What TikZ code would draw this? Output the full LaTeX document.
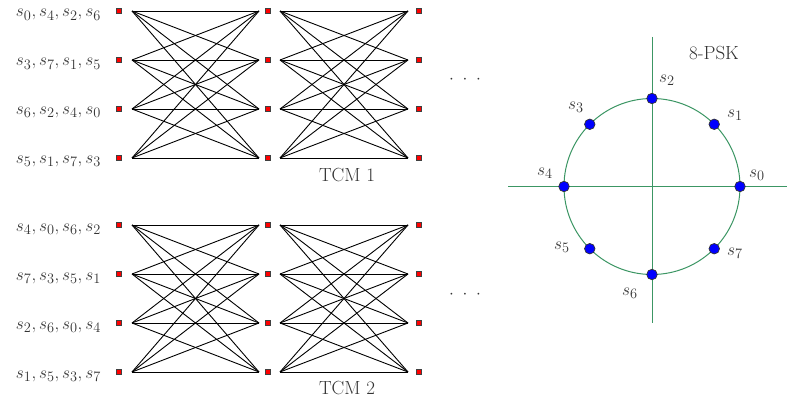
\documentclass[tikz,border=0pt]{standalone}
\usepackage{amsmath}
\usetikzlibrary{calc}
\begin{document}
\begin{tikzpicture}[x=1pt,y=-1pt,
  statebox/.style={draw=black!75,fill=red,line width=0.8pt,minimum width=5.5pt,minimum height=5pt,inner sep=0pt},
  edge/.style={black,line width=0.9pt},
  lbl/.style={font=\fontsize{19}{22}\selectfont,text=black!80,inner sep=0pt},
  pt/.style={circle,draw=black!80,fill=blue,line width=0.7pt,minimum size=10.5pt,inner sep=0pt}]
\useasboundingbox (0,0) rectangle (787,404);
\definecolor{pskgreen}{RGB}{60,150,100}
% trellis 1 and 2
\foreach \t/\y in {T/11,B/225}{
  \foreach \i in {1,2,3,4}{
    \pgfmathsetmacro{\yy}{\y+(\i-1)*49}
    \node[statebox] (\t L\i) at (119,\yy) {};
    \node[statebox] (\t M\i) at (268,\yy) {};
    \node[statebox] (\t R\i) at (419,\yy) {};
    \coordinate (\t a\i) at (132,\yy);
    \coordinate (\t b\i) at (259,\yy);
    \coordinate (\t c\i) at (280,\yy);
    \coordinate (\t d\i) at (408,\yy);
  }
  \foreach \i in {1,2,3,4}{
    \foreach \j in {1,2,3,4}{
      \draw[edge] (\t a\i) -- (\t b\j);
      \draw[edge] (\t c\i) -- (\t d\j);
    }
  }
}
% labels
\node[lbl,anchor=base east] (lt1) at (101,17) {$s_0, s_4, s_2, s_6$};
\node[lbl,anchor=base east] (lt2) at (101,66) {$s_3, s_7, s_1, s_5$};
\node[lbl,anchor=base east] (lt3) at (101,114) {$s_6, s_2, s_4, s_0$};
\node[lbl,anchor=base east] (lt4) at (101,163) {$s_5, s_1, s_7, s_3$};
\node[lbl,anchor=base east] (lb1) at (101,231) {$s_4, s_0, s_6, s_2$};
\node[lbl,anchor=base east] (lb2) at (101,280) {$s_7, s_3, s_5, s_1$};
\node[lbl,anchor=base east] (lb3) at (101,329) {$s_2, s_6, s_0, s_4$};
\node[lbl,anchor=base east] (lb4) at (101,378) {$s_1, s_5, s_3, s_7$};
\node[lbl] (tcm1) at (347,175) {TCM 1};
\node[lbl] (tcm2) at (347,388) {TCM 2};
\node[lbl] (dots1) at (465,80) {$\cdot\;\cdot\;\cdot$};
\node[lbl] (dots2) at (465,295) {$\cdot\;\cdot\;\cdot$};
% 8-PSK
\coordinate (O) at (652,186.5);
\draw[draw=pskgreen,line width=1pt] (O) circle (88);
\coordinate (xl) at (508,186.5);
\coordinate (xr) at (787,186.5);
\coordinate (yt) at (652,37);
\coordinate (yb) at (652,323);
\draw[draw=pskgreen,line width=1pt] (xl) -- (xr);
\draw[draw=pskgreen,line width=1pt] (yt) -- (yb);
\foreach \k in {0,...,7}{
  \node[pt] (p\k) at ($(O)+({88*cos(45*\k)},{-88*sin(45*\k)})$) {};
}
\node[lbl] (psk) at (714,53) {8-PSK};
\node[lbl] (l0) at (757,175) {$s_0$};
\node[lbl] (l1) at (735,115) {$s_1$};
\node[lbl] (l2) at (667,80) {$s_2$};
\node[lbl] (l3) at (576,107) {$s_3$};
\node[lbl] (l4) at (545,173) {$s_4$};
\node[lbl] (l5) at (562,247) {$s_5$};
\node[lbl] (l6) at (630,293) {$s_6$};
\node[lbl] (l7) at (735,253) {$s_7$};
\end{tikzpicture}
\end{document}
